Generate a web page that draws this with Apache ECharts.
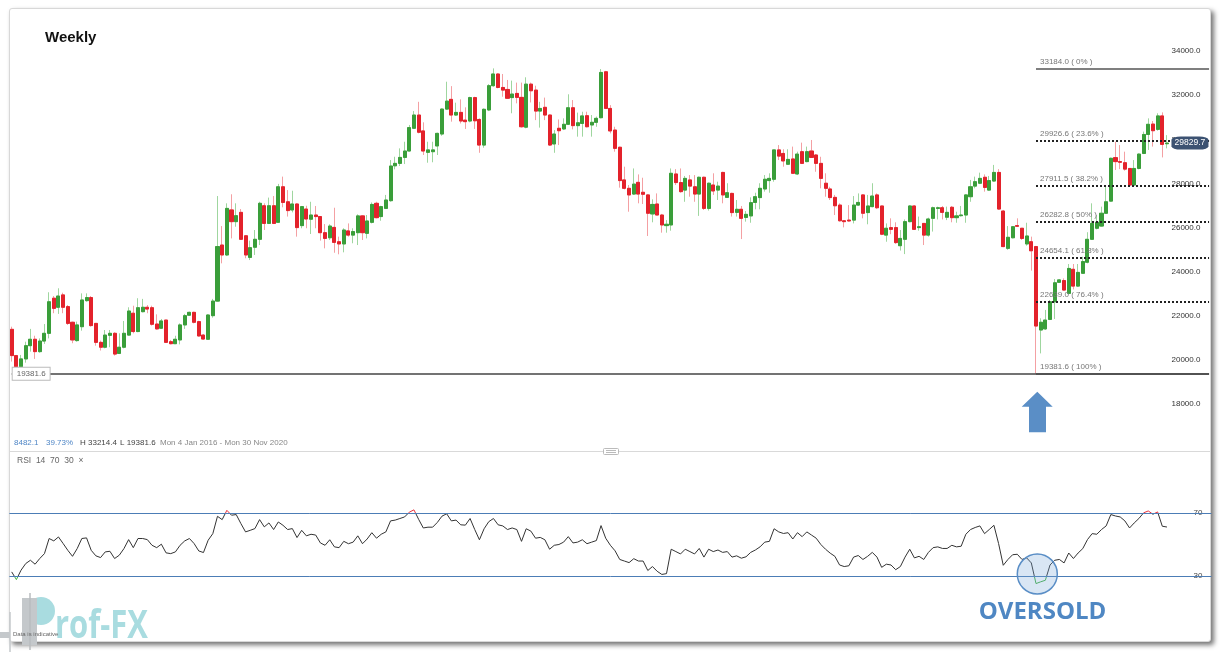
<!DOCTYPE html>
<html><head><meta charset="utf-8">
<script src="https://cdn.jsdelivr.net/npm/echarts@6/dist/echarts.min.js"></script>
<style>
html,body{margin:0;padding:0;background:#fff;width:1221px;height:652px;overflow:hidden}
#frame{position:absolute;left:9px;top:8px;width:1200px;height:632px;border:1px solid #d8d8d8;background:#fff;box-shadow:3px 3px 5px rgba(0,0,0,0.55);border-radius:3px}
#chart{position:absolute;left:0;top:0;width:1221px;height:652px}
</style></head><body>
<div id="frame"></div>
<div id="chart"></div>
<script>
const weeks = Array.from({length:257},(_,i)=>new Date(Date.UTC(2016,0,4)+i*7*86400000).toISOString().slice(0,10));
const opens = [21390,20200,19700,20050,20650,20940,20380,20860,21210,22800,22390,22950,22420,21710,20880,21510,22690,22830,21660,20800,
20580,21120,21210,20300,20580,21130,22120,21290,22190,22390,22370,21630,21440,21810,20830,20740,20910,21590,22030,22160,
21740,21130,20940,22010,22670,25210,24760,26800,26270,26690,25630,24650,25110,25470,26990,26190,26990,26240,27850,27170,
26800,27070,26090,26840,26380,26570,26500,25770,25540,26010,25360,25260,25850,25660,25770,26530,25740,26240,27100,26500,
26870,27220,28800,28910,29180,29470,30500,31100,30380,29410,29440,29700,30240,31370,31810,31100,31220,30870,30830,31890,
30900,29740,31330,32430,32960,32350,32260,31890,32080,31900,30550,32500,32230,31280,31450,31100,29790,30500,30470,30680,
31430,30620,30720,31070,30650,30770,30980,33060,31400,30420,29640,28160,27780,27520,28050,27600,27480,26620,27070,26570,
26090,26120,28430,28040,27700,28160,27850,27520,28280,26870,27930,27700,28500,27370,27550,26690,26830,26460,26530,27140,
27360,27750,28130,28190,29520,29360,28870,29110,28430,29440,28990,29470,29290,28910,28010,27750,27370,27020,26310,26340,
26340,27020,27480,26680,26950,27480,26980,25660,26000,26000,25180,25470,26270,26980,26000,26190,25660,26420,26870,26900,
26470,26920,26450,26540,26570,27400,27880,28010,28280,27700,28110,28500,26750,25060,25540,26090,25970,25260,25360,25140,
21360,21410,21840,22640,23520,23600,23020,24110,23350,23930,24430,25470,25970,26070,26650,27200,29170,28990,28940,28680,
27930,28680,29360,30220,30690,30450,31060,29800];
const closes = [20200,19700,20050,20650,20940,20380,20860,21210,22640,22340,22900,22390,21660,20910,21590,22720,22830,21560,20800,20580,
21130,21210,20270,20580,21210,22220,21290,22370,22390,22310,21620,21410,21770,20800,20740,20940,21590,22010,22160,21710,
21090,20950,22040,22670,25140,24760,26870,26270,26540,25470,24760,25090,25470,27100,26190,26990,26190,27850,27140,26770,
27070,26000,26950,26390,26570,26500,25770,25510,26070,25330,25260,25890,25660,25820,26530,25770,26300,27050,26450,26950,
27250,28790,28910,29180,29470,30530,31100,30320,29470,29520,29520,30270,31370,31730,31100,31220,30830,30800,31890,30840,
29740,31360,32430,32960,32350,32230,31860,32050,31900,30570,32500,32200,31280,31400,31100,29740,30240,30390,30680,31430,
30620,30750,31060,30570,30770,30950,33030,31400,30380,29590,28130,27780,27480,27970,27520,27510,26650,27050,26570,26120,
26150,28460,28040,27630,28230,27880,27520,28280,26870,28010,27660,27880,27480,27580,26680,26830,26420,26600,27130,27400,
27780,28190,28230,29520,29240,29020,29090,28460,29330,28910,29440,29180,28910,28230,27780,27360,26990,26310,26270,26300,
27020,27140,26650,26980,27430,26900,25700,25970,25920,25320,25510,26270,26980,25920,26040,25660,26390,26900,26900,26690,
26690,26450,26530,26570,27480,27850,28080,28230,27820,28130,28500,26840,25140,25560,26040,26060,25510,25620,24950,21540,
21710,21810,22640,23500,23630,23170,24150,23350,23970,24460,25470,26190,26240,26650,27170,29140,28990,28960,28650,27930,
28680,29330,30220,30680,30390,31060,29770,29829.7];
const highs = [21510,20230,20230,20830,21410,21100,20980,21630,23070,22900,23250,23050,22490,21740,21740,23020,23020,22900,21660,20880,
21360,21360,21260,21210,21770,22390,22460,22800,22770,22490,22460,22070,21860,21810,20910,21100,21660,22090,22190,22190,
21780,21180,22070,22770,27430,26070,27100,27510,27100,26840,25660,25410,25890,27170,27100,27360,27430,27980,28310,27700,
27670,27100,26980,26990,27170,26980,26500,26160,26150,26900,25590,25970,26190,25970,26600,26570,26570,27140,27170,26990,
27480,29060,29210,29590,29890,30650,31280,31700,30770,29890,29890,30300,31400,32610,32410,31660,31810,31450,31930,31930,
30950,31400,32500,33214.4,32990,32960,32690,32660,32570,32570,32810,32570,32430,31700,31890,31130,30420,30900,30950,32040,
31780,31210,31250,31250,31100,31030,33184,33100,31550,30570,29670,28760,27930,28680,28410,28260,27520,27280,27550,26620,
26340,28680,28650,28680,28340,28380,28380,28310,28310,28040,28460,28080,28530,28010,27580,27250,26980,26750,27370,27580,
28010,28380,28460,29520,29740,29550,29550,29670,29440,29850,29670,29970,29330,29210,28460,27850,27480,27100,26340,27020,
27430,27550,27510,27480,28010,27550,26990,26190,26420,26240,25890,26370,27020,27020,26500,26190,26450,26950,26950,26980,
26950,26980,26720,26980,27510,28160,28310,28490,28410,28340,28840,28650,26800,26070,26070,26420,25970,26220,25590,25170,
21890,22270,22720,23670,23670,23700,24350,24350,24350,24680,25790,27100,26570,26950,27930,29170,29890,29740,29440,28690,
29060,29360,30350,30950,30830,31180,31220,30190];
const lows = [19930,19600,19550,19880,20380,20050,20330,20730,20980,22120,22090,22120,21590,20760,20830,21330,22640,21510,20650,20430,
20530,20580,20200,20270,20530,21100,21210,21260,22160,22120,21560,21380,21410,20770,20710,20740,20710,21410,22000,21660,
21060,20920,20910,21920,22640,24380,24710,25510,26040,25440,24610,24530,24760,25210,25890,26160,26160,26240,26920,26500,
26690,25590,25970,25970,25710,25970,25410,25060,25440,24860,24790,24880,25590,25290,25210,25440,25510,26190,26420,26310,
26840,27170,28640,28790,28880,29440,30470,30270,29290,28940,28960,29290,30160,31330,30800,31060,30720,30470,30770,30470,
29390,29620,31280,32380,32310,31930,31830,31180,31630,30530,30500,31670,30870,30530,30870,29700,29390,29740,30420,30650,
30450,30120,30120,30540,30120,30570,30950,31370,30270,29440,27810,27730,26720,27480,27100,27070,25620,26240,26570,25770,
25770,25860,27930,27580,27170,27400,27170,26530,26800,26770,27480,27250,27100,27360,26500,26500,25480,26270,26220,26830,
26830,27630,27580,28080,29060,28760,28840,28430,28380,28880,28960,29180,28530,27780,27400,27250,26570,26270,26010,26270,
26190,26980,26420,26150,26920,26840,25660,25360,25700,25260,24960,24800,26240,25890,25860,25210,25590,25820,26370,26370,
26340,26240,26220,26500,26220,27170,27780,27970,27630,27670,28080,26800,25110,24990,25510,26040,25440,25180,24050,19381.6,
20300,21360,21810,21860,23500,23140,22980,23200,23320,23900,24380,25440,25920,26040,26620,27170,28610,28650,28580,27880,
27900,28640,29330,29520,29670,30390,29180,29590];
const rsi = [32.6,27.7,33.7,37.9,40.0,37.5,41.1,44.2,53.8,52.3,54.8,50.6,46.3,42.5,47.4,53.8,54.2,46.3,42.8,41.7,
45.3,45.7,41.1,43.2,47.4,53.1,48.0,53.8,53.8,53.1,49.5,48.0,50.2,44.7,44.2,45.3,49.5,52.3,53.8,50.6,
45.9,44.9,52.7,56.9,67.9,65.8,71.7,68.6,69.0,63.3,58.0,59.0,60.1,65.8,61.2,63.7,59.5,64.3,62.2,59.5,
60.1,54.4,59,55.5,56.5,56,51,49.5,53,48.5,48,52,50.5,51.5,55.5,50.5,53.5,57.5,54,56.5,
58,65,65.5,66.5,67.5,70.5,72,66,60.5,61,61,64,68,69.5,65,65.5,62.5,62.3,66.5,59.5,
53,60,64.5,66.5,62.5,61.8,59.5,60.5,59.5,52,60,58.5,54,54.5,53,47,49.5,50,51.5,55,
51,51.5,53,50.5,51.5,52.5,62,54,49.5,46,40.5,39.5,38.5,41,39.5,39.5,33.5,36,33,31,
31.5,47,45.5,44,47,45.5,44,47.5,42,47,45.5,46.5,45,45.5,42,42.8,41.3,42.2,45,46.5,
48.5,51.5,52,60,58,57,57.5,53.5,57.5,55,58,56,54,50,47,44.5,42.5,37,36,36.5,
42,43,40.5,42.5,45,42,35.5,37.5,37,34,36,42,47,41.5,42.5,40.5,45,48,48.5,47.5,
47.5,49.5,48.5,48.9,56.5,59.5,60.8,61.8,56.9,59.5,62.2,50.6,36.8,40.5,43.5,43.8,40.5,41.5,38.3,25.2,
26.3,27.3,37,40,40.5,38.3,44.6,41.1,44.6,47.4,53.1,56.9,56.5,59.5,61.8,69,68.1,67.5,65,60.5,
63.7,66.5,70.1,71.3,69.2,70.7,61.6,61.1];
const fibValues = [33184.0,29926.6,27911.5,26282.8,24654.1,22639.0,19381.6];
const fibPercents = ['0%','23.6%','38.2%','50%','61.8%','76.4%','100%'];
const fibStartIndex = 219;
const rsiLevels = [70,30];
const priceLow = 19381.6;
const lastPrice = 29829.7;

const UP='#3a9e3a', DOWN='#e3222b', UPW='#9fd69f', DOWNW='#f4a0a3';
const wickData = opens.map((o,i)=>[o,closes[i],lows[i],highs[i]]);
const bodyData = opens.map((o,i)=>[o,closes[i],Math.min(o,closes[i]),Math.max(o,closes[i])]);

const fibLines = fibValues.map((v,i)=>{
  const dotted = i>0 && i<fibValues.length-1;
  return [{coord:[fibStartIndex,v],
      lineStyle:{color: dotted?'#222':'#555', width: dotted?2:1.5, type: dotted?[2,2]:'solid'},
      label:{show:true,position:'insideStartTop',formatter: v.toFixed(1)+' ( '+fibPercents[i]+' )',color:'#777',fontSize:8,fontFamily:'Liberation Sans, Arial',distance:[4,3]}},
    {coord:[weeks.length-1,v]}];
});
fibLines.push([{coord:[0,priceLow],lineStyle:{color:'#444',width:1.5,type:'solid'},
  label:{show:true,position:'insideStart',formatter:priceLow.toFixed(1),color:'#666',fontSize:8,fontFamily:'Liberation Sans, Arial',
    backgroundColor:'#fff',borderColor:'#bbb',borderWidth:1,padding:[2,4,2,4],distance:1}},
  {coord:[weeks.length-1,priceLow]}]);

const chart = echarts.init(document.getElementById('chart'),null,{renderer:'canvas'});
const F = 'Liberation Sans, Arial, sans-serif';
chart.setOption({
  animation:false,
  backgroundColor:'transparent',
  grid:[{left:9.36,right:9.6,top:6.9,height:441.4},{left:9.36,right:9.6,top:465.75,height:157.5}],
  xAxis:[
    {type:'category',data:weeks,gridIndex:0,boundaryGap:true,show:false},
    {type:'category',data:weeks,gridIndex:1,boundaryGap:true,show:false}
  ],
  yAxis:[
    {type:'value',gridIndex:0,position:'right',min:16000,max:36000,interval:2000,scale:false,
     axisLine:{show:false},axisTick:{show:false},splitLine:{show:false},
     axisLabel:{inside:true,margin:11,fontSize:8,color:'#333',fontFamily:F,
       formatter:v=>(v<=16000||v>=36000)?'':v.toFixed(1)}},
    {type:'value',gridIndex:1,position:'right',min:0,max:100,interval:10,
     axisLine:{show:false},axisTick:{show:false},splitLine:{show:false},
     axisLabel:{inside:true,margin:8,fontSize:8,color:'#444',fontFamily:F,backgroundColor:'#fff',padding:[0,1,0,1],
       formatter:v=>rsiLevels.includes(v)?String(v):''}}
  ],
  visualMap:[{type:'piecewise',show:false,seriesIndex:2,dimension:1,
    pieces:[{lt:30,color:'#44b044'},{gte:30,lte:70,color:'#333'},{gt:70,color:'#e8323c'}]}],
  series:[
    {type:'candlestick',name:'wick',xAxisIndex:0,yAxisIndex:0,data:wickData,barWidth:'76%',silent:true,
     itemStyle:{color:UPW,color0:DOWNW,borderColor:UPW,borderColor0:DOWNW,borderWidth:1}},
    {type:'candlestick',name:'body',xAxisIndex:0,yAxisIndex:0,data:bodyData,barWidth:'76%',z:3,
     itemStyle:{color:UP,color0:DOWN,borderColor:UP,borderColor0:DOWN,borderWidth:1},
     markLine:{symbol:'none',silent:true,animation:false,data:fibLines},
     markPoint:{silent:true,data:[{coord:[opens.length-1,lastPrice],value:lastPrice,symbol:'roundRect',symbolSize:[37,13],symbolOffset:[23,0],
       itemStyle:{color:'#3c5272'},label:{show:true,color:'#fff',fontSize:8.5,fontFamily:F,formatter:()=>lastPrice.toFixed(1)}}]}},
    {type:'line',name:'RSI',xAxisIndex:1,yAxisIndex:1,data:rsi,symbol:'none',lineStyle:{width:1},z:4,
     markLine:{symbol:'none',silent:true,label:{show:false},lineStyle:{color:'#4c7db6',width:1,type:'solid'},
       data:rsiLevels.map(v=>({yAxis:v}))}}
  ],
  graphic:[
    {type:'text',left:45,top:30,style:{text:'Weekly',font:'bold 15px '+F,fill:'#111'}},
    {type:'text',left:14,top:439,style:{text:'8482.1',font:'8px '+F,fill:'#4f86c6'}},
    {type:'text',left:46,top:439,style:{text:'39.73%',font:'8px '+F,fill:'#4f86c6'}},
    {type:'text',left:80,top:439,style:{text:'H 33214.4',font:'8px '+F,fill:'#444'}},
    {type:'text',left:120,top:439,style:{text:'L 19381.6',font:'8px '+F,fill:'#444'}},
    {type:'text',left:160,top:439,style:{text:'Mon 4 Jan 2016 - Mon 30 Nov 2020',font:'8px '+F,fill:'#888'}},
    {type:'line',shape:{x1:10,y1:451.5,x2:1210,y2:451.5},style:{stroke:'#d9d9d9',lineWidth:1}},
    {type:'rect',shape:{x:603.5,y:448.5,width:15,height:6,r:1},style:{fill:'#fff',stroke:'#bbb',lineWidth:1}},
    {type:'line',shape:{x1:606,y1:450.5,x2:616,y2:450.5},style:{stroke:'#bbb',lineWidth:1}},
    {type:'line',shape:{x1:606,y1:452.5,x2:616,y2:452.5},style:{stroke:'#bbb',lineWidth:1}},
    {type:'text',left:17,top:456,style:{text:'RSI  14  70  30  \u00d7',font:'8.5px '+F,fill:'#666'}},
    {type:'polygon',shape:{points:[[1037.3,391.7],[1052.7,406.7],[1046,406.7],[1046,432.3],[1029,432.3],[1029,406.7],[1021.7,406.7]]},style:{fill:'#5a8ec6'}},
    {type:'circle',shape:{cx:1037.3,cy:574,r:20},style:{fill:'rgba(120,165,215,0.28)',stroke:'#5a8ec6',lineWidth:1.5},z:10},
    {type:'text',x:1042.5,y:612.5,style:{text:'OVERSOLD',font:'bold 24px "Open Sans", sans-serif',fill:'#4f87c3',textAlign:'center',textVerticalAlign:'middle'}},
    {type:'line',shape:{x1:10,y1:612,x2:10,y2:652},style:{stroke:'#c4c8cb',lineWidth:1.5}},
    {type:'rect',shape:{x:0,y:632,width:10,height:6},style:{fill:'#c4c8cb'}},
    {type:'circle',shape:{cx:41,cy:611,r:14},style:{fill:'#a9dce0'}},
    {type:'rect',shape:{x:22,y:598,width:15,height:47},style:{fill:'#c4c8cb'}},
    {type:'line',shape:{x1:30,y1:593,x2:30,y2:650},style:{stroke:'#b8bcbf',lineWidth:1.5}},
    {type:'text',x:55,y:646,scaleY:1.25,originX:0,originY:0,style:{text:'rof-FX',font:'bold 31px "Open Sans", sans-serif',fill:'#a9dce0',textVerticalAlign:'bottom'}},
    {type:'text',left:13,top:631,style:{text:'Data is indicative',font:'6px '+F,fill:'#666'}}
  ]
});
</script>
</body></html>
